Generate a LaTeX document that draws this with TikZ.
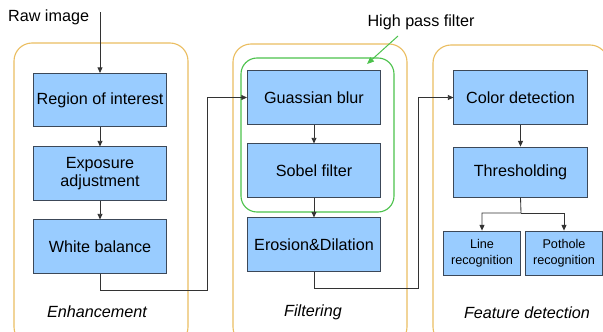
\documentclass[tikz,border=0pt]{standalone}
\usepackage{fontspec}
\setmainfont{Liberation Sans}
\usetikzlibrary{arrows.meta,positioning}

\definecolor{boxfill}{HTML}{99CCFF}
\definecolor{boxline}{HTML}{3C4858}
\definecolor{grouporange}{HTML}{EBBE62}
\definecolor{hpfgreen}{HTML}{4CC24C}

\tikzset{
  stage/.style={draw=boxline,fill=boxfill,line width=0.6pt,align=center,inner sep=1pt,
    minimum width=3.33cm,minimum height=1.33cm,font=\fontsize{11.5}{13}\selectfont},
  smallstage/.style={stage,minimum width=1.93cm,minimum height=1.1cm,font=\fontsize{9}{11}\selectfont},
  group/.style={draw=grouporange,line width=0.8pt,rounded corners=0.45cm},
  hpf/.style={draw=hpfgreen,line width=0.8pt,rounded corners=0.4cm},
  conn/.style={draw=black!80,line width=0.6pt,-{Triangle[length=4pt,width=3.5pt]}},
  grouplabel/.style={font=\fontsize{11.5}{13}\selectfont\itshape}
}

\begin{document}
\begin{tikzpicture}[x=0.025cm,y=-0.025cm]
  \clip (0,0) rectangle (603,331);
  \fill[white] (0,0) rectangle (603,331);
  \draw[group] (14,43) rectangle (188,345);
  \draw[group] (233,44) rectangle (407,345);
  \draw[group] (433,45) rectangle (608,345);
  \draw[hpf] (241,58) rectangle (394,212);
  \node[stage] (roi) at (100,100) {Region of interest};
  \node[stage] (expo) at (100,173.5) {Exposure\\adjustment};
  \node[stage] (wb) at (100,246.5) {White balance};
  \node[stage] (gauss) at (314,97.5) {Guassian blur};
  \node[stage] (sobel) at (314,170.5) {Sobel filter};
  \node[stage] (erosion) at (314,244.5) {Erosion\&Dilation};
  \node[stage] (color) at (520.5,97.5) {Color detection};
  \node[stage,minimum height=1.25cm] (thresh) at (520.5,172) {Thresholding};
  \node[smallstage] (line) at (482,253) {Line\\recognition};
  \node[smallstage] (pothole) at (564,253) {Pothole\\recognition};
  \node[font=\fontsize{11.5}{13}\selectfont,anchor=east] (raw) at (94,17) {Raw image};
  \node[font=\fontsize{11.5}{13}\selectfont] (hpflabel) at (421,22) {High pass filter};
  \node[grouplabel] (enh) at (97,312) {Enhancement};
  \node[grouplabel] (filt) at (313,312) {Filtering};
  \node[grouplabel] (feat) at (527,313) {Feature detection};
  \coordinate (rawin) at (100,12);
  \coordinate (hpftail) at (398,36);
  \coordinate (hpfhead) at (367,64);
  \coordinate (bendA) at (207,290);
  \coordinate (bendB) at (418,288);
  \coordinate (split) at (521,213);
  \draw[conn] (rawin) -- (roi.north);
  \draw[conn] (roi) -- (expo);
  \draw[conn] (expo) -- (wb);
  \draw[conn] (wb.south) |- (bendA) |- (gauss.west);
  \draw[conn] (gauss) -- (sobel);
  \draw[conn] (sobel) -- (erosion);
  \draw[conn] (erosion.south) |- (bendB) |- (color.west);
  \draw[conn] (color) -- (thresh);
  \draw[conn] (thresh.south) -- (split) -| (line.north);
  \draw[conn] (split) -| (pothole.north);
  \draw[draw=hpfgreen,line width=0.7pt,-{Triangle[length=5pt,width=4pt]}] (hpftail) -- (hpfhead);
\end{tikzpicture}
\end{document}
